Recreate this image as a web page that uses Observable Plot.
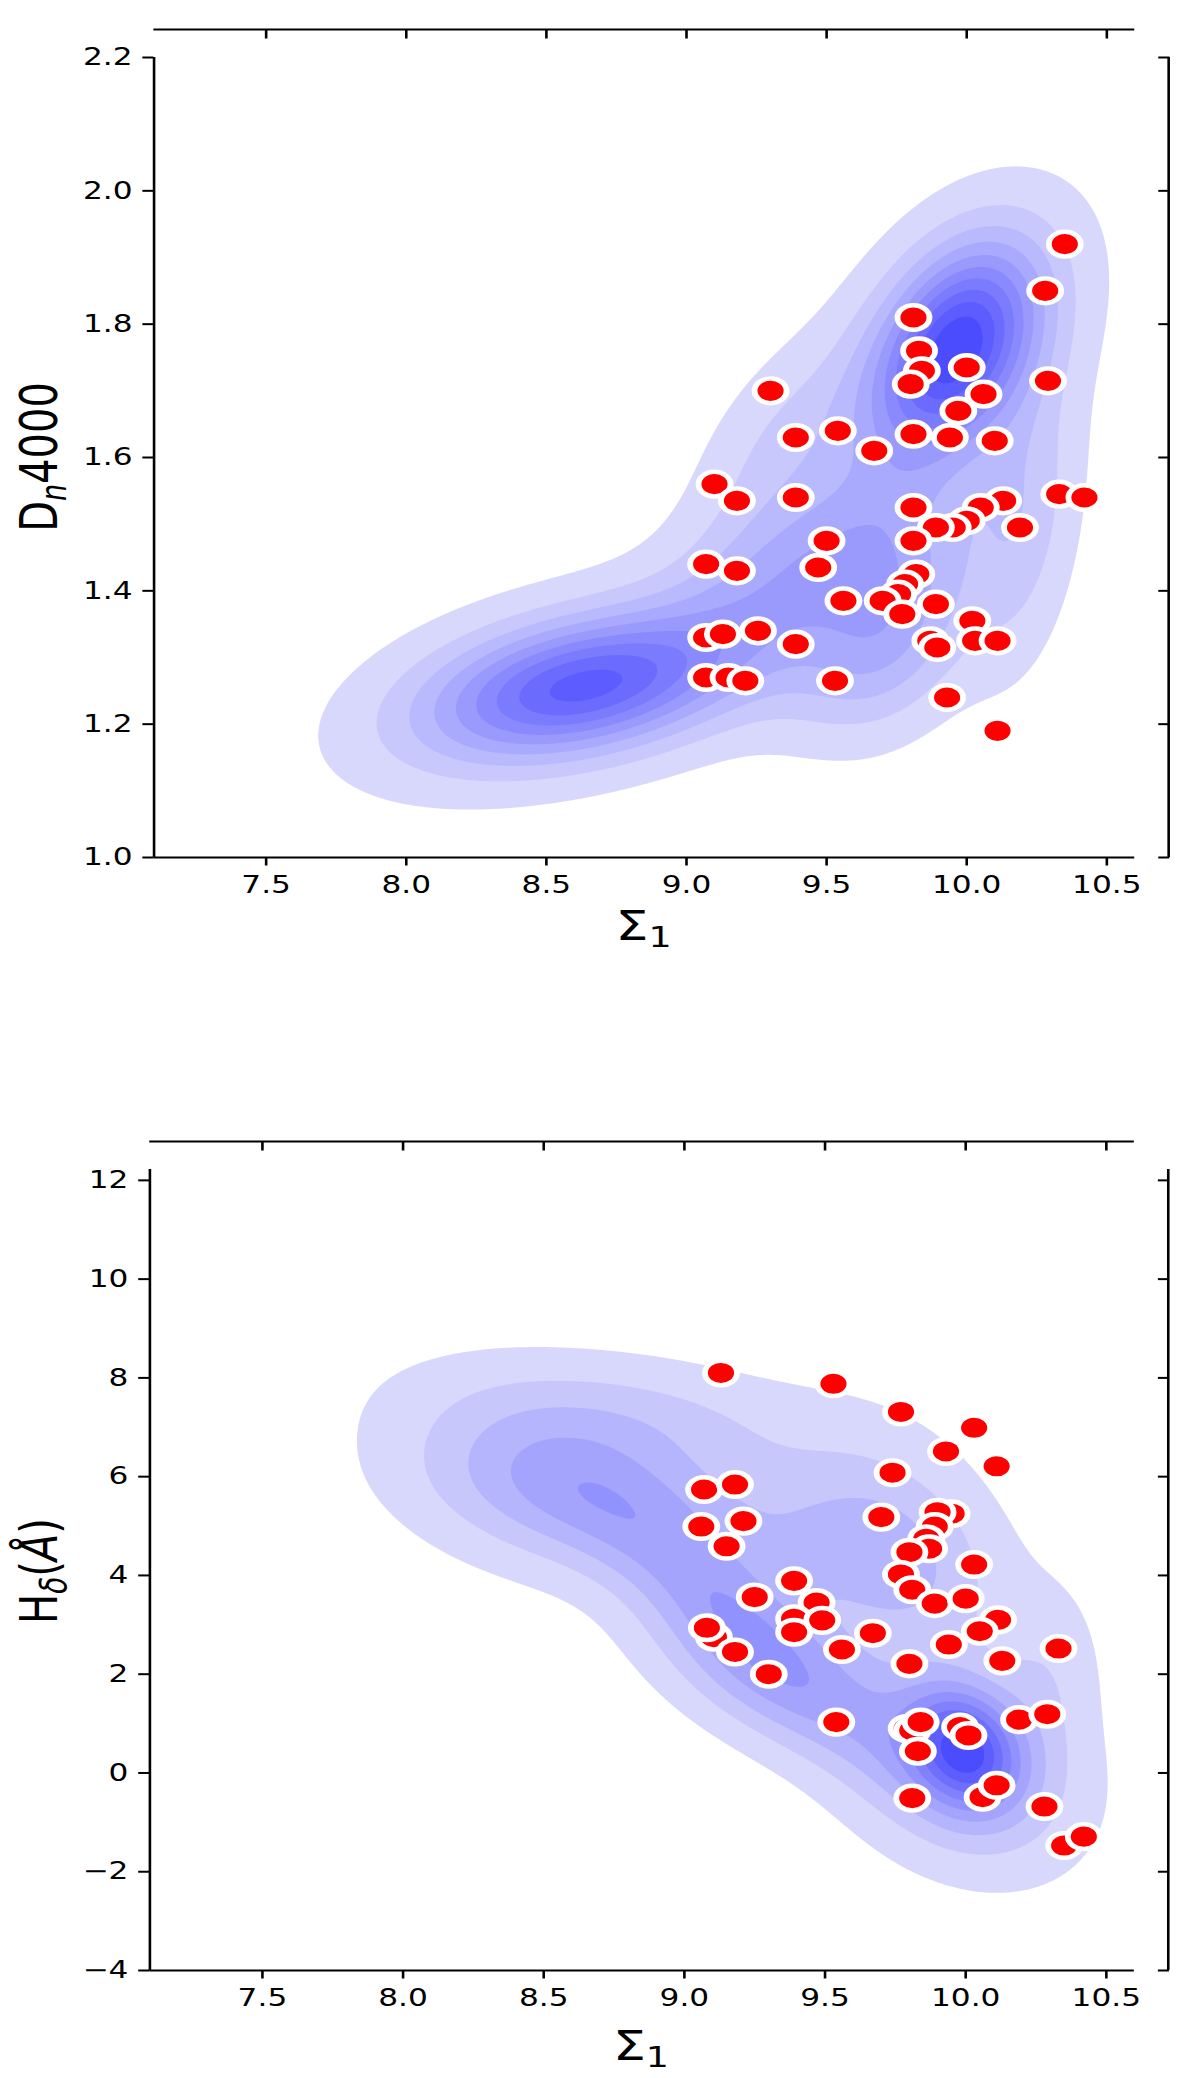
<!DOCTYPE html>
<html>
<head>
<meta charset="utf-8">
<script src="https://cdn.jsdelivr.net/npm/d3@7"></script>
<script src="https://cdn.jsdelivr.net/npm/@observablehq/plot@0.6"></script>
<style>
  html, body { margin: 0; padding: 0; background: #fff; }
  #chart { width: 1200px; height: 2078px; overflow: hidden; }
</style>
</head>
<body>
<div id="chart"></div>
<script>
// the original figure is stretched sideways, so draw narrow and scale x
const W = 923;
const stretch = 1200 / W;

const sigmaTicks = [7.5, 8.0, 8.5, 9.0, 9.5, 10.0, 10.5];
const dnTicks = [1.0, 1.2, 1.4, 1.6, 1.8, 2.0, 2.2];
const hdTicks = [-4, -2, 0, 2, 4, 6, 8, 10, 12];

// galaxies, top panel
const sigmaTop = [10.35, 10.28, 9.81, 9.83, 9.84, 9.80, 10.00, 10.06, 9.97, 10.29,
  9.30, 9.39, 9.54, 9.67, 9.81, 9.94, 10.10, 9.10, 9.18, 9.39,
  9.81, 10.33, 10.42, 10.13, 10.05, 10.00, 9.95, 9.89, 10.19, 9.81,
  9.50, 9.47, 9.07, 9.18, 9.82, 9.78, 9.755, 9.70, 9.56, 9.77,
  9.89, 10.02, 10.03, 10.11, 9.87, 9.895, 9.07, 9.13, 9.255, 9.39,
  9.07, 9.15, 9.21, 9.53, 9.93, 10.11];
const dn4000 = [1.92, 1.85, 1.81, 1.76, 1.73, 1.71, 1.735, 1.695, 1.67, 1.715,
  1.70, 1.63, 1.64, 1.61, 1.635, 1.63, 1.625, 1.56, 1.535, 1.54,
  1.525, 1.545, 1.54, 1.535, 1.525, 1.505, 1.495, 1.495, 1.495, 1.475,
  1.475, 1.435, 1.44, 1.43, 1.425, 1.41, 1.395, 1.385, 1.385, 1.365,
  1.38, 1.355, 1.325, 1.325, 1.325, 1.315, 1.33, 1.335, 1.34, 1.32,
  1.27, 1.27, 1.265, 1.265, 1.24, 1.19];

// galaxies, bottom panel
const sigmaBottom = [9.13, 9.53, 9.77, 10.03, 9.93, 10.11, 9.74, 9.07, 9.18, 9.06,
  9.21, 9.15, 9.70, 9.95, 9.90, 9.89, 9.86, 9.87, 9.80, 10.03,
  9.77, 9.81, 9.89, 10.00, 9.39, 9.25, 9.47, 10.115, 9.105, 9.08,
  9.18, 9.30, 9.39, 9.39, 9.49, 9.56, 9.67, 9.80, 9.94, 10.05,
  10.13, 10.33, 9.54, 9.79, 9.81, 9.84, 9.83, 9.98, 10.01, 10.19,
  10.29, 9.81, 10.06, 10.11, 10.28, 10.35, 10.42];
const hdelta = [8.10, 7.88, 7.31, 6.99, 6.51, 6.21, 6.08, 5.74, 5.84, 4.99,
  5.10, 4.59, 5.18, 5.25, 5.28, 4.99, 4.74, 4.54, 4.47, 4.22,
  4.02, 3.71, 3.43, 3.53, 3.89, 3.56, 3.45, 3.10, 2.75, 2.94,
  2.45, 2.00, 3.12, 2.85, 3.09, 2.50, 2.83, 2.21, 2.60, 2.87,
  2.27, 2.52, 1.03, 0.90, 0.86, 1.03, 0.44, 0.93, 0.76, 1.08,
  1.19, -0.51, -0.49, -0.25, -0.68, -1.47, -1.29];

// density blobs (centre, spread, tilt, weight)
const dnBlobs = [
  {x: 9.97, y: 1.77, sx: 0.19, sy: 0.10, rho: 0.35, w: 0.8},
  {x: 9.9, y: 1.72, sx: 0.30, sy: 0.15, rho: 0.5, w: 0.3},
  {x: 8.62, y: 1.255, sx: 0.36, sy: 0.07, rho: 0.35, w: 0.75},
  {x: 8.5, y: 1.25, sx: 0.45, sy: 0.10, rho: 0.45, w: 0.15},
  {x: 9.4, y: 1.42, sx: 0.35, sy: 0.11, rho: 0.55, w: 0.4},
  {x: 9.75, y: 1.35, sx: 0.20, sy: 0.10, rho: 0.3, w: 0.3},
  {x: 10.2, y: 1.5, sx: 0.13, sy: 0.14, rho: 0.3, w: 0.2},
  {x: 9.33, y: 1.62, sx: 0.2, sy: 0.1, rho: 0.5, w: 0.13},
  {x: 9.55, y: 1.27, sx: 0.22, sy: 0.07, rho: 0.3, w: 0.1}
];
const hdBlobs = [
  {x: 10.0, y: 0.5, sx: 0.13, sy: 0.8, rho: -0.2, w: 0.7},
  {x: 9.98, y: 0.2, sx: 0.26, sy: 1.3, rho: -0.25, w: 0.4},
  {x: 9.25, y: 2.8, sx: 0.35, sy: 1.7, rho: -0.8, w: 0.5},
  {x: 8.55, y: 5.8, sx: 0.35, sy: 1.1, rho: -0.3, w: 0.42},
  {x: 9.75, y: 4.5, sx: 0.25, sy: 1.5, rho: -0.3, w: 0.3},
  {x: 8.8, y: 7.3, sx: 0.45, sy: 0.8, rho: -0.3, w: 0.17},
  {x: 9.2, y: 1.8, sx: 0.25, sy: 1.0, rho: -0.6, w: 0.15},
  {x: 10.3, y: 2.0, sx: 0.12, sy: 1.2, rho: 0, w: 0.12},
  {x: 9.3, y: 5.0, sx: 0.35, sy: 1.2, rho: -0.5, w: 0.18}
];

const bandLight = "#d8d8fc";
const bandDark = "#4c4cff";

function mixture(blobs) {
  return (x, y) => d3.sum(blobs, b => {
    const u = (x - b.x) / b.sx, v = (y - b.y) / b.sy;
    return b.w * Math.exp(-(u * u - 2 * b.rho * u * v + v * v) / (2 * (1 - b.rho * b.rho)));
  });
}

function levels(fn, [x1, x2], [y1, y2], n) {
  const xs = d3.range(201).map(i => x1 + (x2 - x1) * i / 200);
  const ys = d3.range(201).map(i => y1 + (y2 - y1) * i / 200);
  const peak = d3.max(xs, x => d3.max(ys, y => fn(x, y)));
  const step = 0.95 / n;
  return d3.range(n).map(k => peak * (0.05 + k * step));
}

function panel({sigma, vals, yDomain, yTicks, yFormat, fn, nLevels, height, mt, mb, ml, mr}) {
  const xDomain = [7.1, 10.6];
  const th = levels(fn, xDomain, yDomain, nLevels);
  const pts = sigma.map((s, i) => ({s, v: vals[i]}));
  return Plot.plot({
    width: W,
    height,
    marginTop: mt,
    marginBottom: mb,
    marginLeft: ml,
    marginRight: mr,
    style: {fontFamily: "DejaVu Sans", fontSize: "24px", color: "black", background: "white", overflow: "visible"},
    x: {domain: xDomain},
    y: {domain: yDomain},
    color: {type: "linear", domain: [th[0], th[th.length - 1]], range: [bandLight, bandDark], interpolate: "rgb"},
    marks: [
      Plot.contour({
        x1: xDomain[0], x2: xDomain[1], y1: yDomain[0], y2: yDomain[1],
        value: fn, fill: "value", thresholds: th, stroke: "none", pixelSize: 1.5
      }),
      Plot.dot(pts, {x: "s", y: "v", r: 12.3, fill: "#ff0000", stroke: "white", strokeWidth: 4.5}),
      Plot.ruleX([xDomain[0]], {y1: yDomain[0], y2: yDomain[1], strokeWidth: 2}),
      Plot.ruleY([yDomain[0]], {x1: xDomain[0], x2: xDomain[1], strokeWidth: 2}),
      Plot.ruleY([yDomain[1]], {x1: xDomain[0], x2: xDomain[1], dy: -28, strokeWidth: 2}),
      Plot.ruleX([xDomain[1]], {y1: yDomain[0], y2: yDomain[1], dx: 26, strokeWidth: 2}),
      Plot.axisX(sigmaTicks, {anchor: "bottom", tickSize: 8.5, tickPadding: 10, tickFormat: d3.format(".1f"), strokeWidth: 2, label: null}),
      Plot.axisX(sigmaTicks, {anchor: "top", tickSize: -8.5, tickFormat: () => "", dy: -28, strokeWidth: 2, label: null}),
      Plot.axisY(yTicks, {anchor: "left", tickSize: 8.5, tickPadding: 8, tickFormat: d3.format(yFormat), strokeWidth: 2, label: null}),
      Plot.axisY(yTicks, {anchor: "right", tickSize: -8.5, tickFormat: () => "", dx: 26, strokeWidth: 2, label: null})
    ]
  });
}

function sigmaLabel(svg, x, y) {
  const t = svg.append("text").attr("x", x).attr("y", y).attr("text-anchor", "middle")
    .attr("font-size", 40).attr("fill", "black");
  t.append("tspan").text("Σ");
  t.append("tspan").attr("font-size", 28).attr("dy", 7).text("1");
}

const topPlot = panel({
  sigma: sigmaTop, vals: dn4000, yDomain: [1.0, 2.2], yTicks: dnTicks, yFormat: ".1f",
  fn: mixture(dnBlobs), nLevels: 10, height: 1040, mt: 57, mb: 183, ml: 118, mr: 50.6
});
const bottomPlot = panel({
  sigma: sigmaBottom, vals: hdelta, yDomain: [-4, 12.22], yTicks: hdTicks, yFormat: "d",
  fn: mixture(hdBlobs), nLevels: 9, height: 1038, mt: 129, mb: 108, ml: 114.8, mr: 50.9
});

// axis titles with sub-scripts
const s1 = d3.select(topPlot);
sigmaLabel(s1, 495, 940);
const d1 = s1.append("text").attr("transform", "translate(43.6,457) rotate(-90)")
  .attr("text-anchor", "middle").attr("font-size", 40).attr("fill", "black");
d1.append("tspan").text("D");
d1.append("tspan").attr("font-size", 27).attr("font-style", "italic").attr("dy", 7).text("n");
d1.append("tspan").attr("dy", -7).text("4000");

const s2 = d3.select(bottomPlot);
sigmaLabel(s2, 493, 1020);
const h2 = s2.append("text").attr("transform", "translate(43.8,531) rotate(-90)")
  .attr("text-anchor", "middle").attr("font-size", 40).attr("fill", "black");
h2.append("tspan").text("H");
h2.append("tspan").attr("font-size", 28).attr("font-style", "italic").attr("dy", 7).text("δ");
h2.append("tspan").attr("dy", -7).text("(");
h2.append("tspan").attr("font-style", "italic").text("Å");
h2.append("tspan").text(")");

const root = document.getElementById("chart");
for (const p of [topPlot, bottomPlot]) {
  p.style.display = "block";
  p.style.transform = `scaleX(${stretch})`;
  p.style.transformOrigin = "0 0";
  root.append(p);
}
</script>
</body>
</html>
